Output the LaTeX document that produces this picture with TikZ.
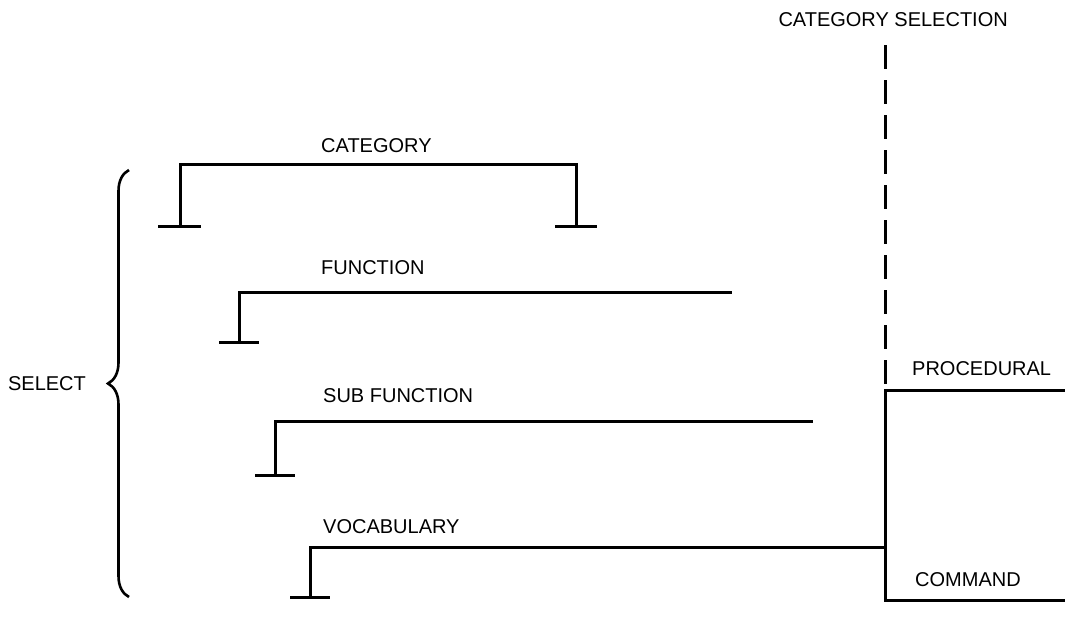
\documentclass[tikz,border=0pt]{standalone}
\usepackage{fontspec}
\setmainfont{Liberation Sans}
\usetikzlibrary{positioning,calc,decorations.pathreplacing}

\begin{document}
\begin{tikzpicture}[x=1pt, y=-1pt,
  bar/.style={line width=3pt, line cap=butt, line join=miter},
  split/.style={bar, dash pattern=on 24pt off 11pt},
  lbl/.style={font=\fontsize{20}{24}\selectfont, inner sep=0pt},
  curly/.style={line width=2.6pt, decorate,
    decoration={brace, amplitude=21pt}}
]
\useasboundingbox (0,0) rectangle (1065,633);

% Levels
\node[lbl, anchor=west] (cat) at (321,146) {CATEGORY};
\node[lbl, anchor=west] (fun) at (321,268) {FUNCTION};
\node[lbl, anchor=west] (sub) at (323,396) {SUB FUNCTION};
\node[lbl, anchor=west] (voc) at (323,527) {VOCABULARY};

% Category bracket
\coordinate (catL) at (180,164);
\coordinate (catR) at (576,164);
\coordinate (catLf) at (180,226);
\coordinate (catRf) at (576,226);
\draw[bar] (catLf) -- (catL) -- (catR) -- (catRf);
\draw[bar] ($(catLf)+(-22,0)$) -- ($(catLf)+(21,0)$);
\draw[bar] ($(catRf)+(-21,0)$) -- ($(catRf)+(21,0)$);

% Right side: category selection
\node[lbl, anchor=east] (catsel) at (1008,20) {CATEGORY SELECTION};
\coordinate (dashtop) at (885,45);
\coordinate (proc) at (885,390);
\coordinate (cmd) at (885,600);
\coordinate (vocR) at (885,547);
\draw[split] (dashtop) -- (proc);
\draw[bar] (1065,390) -- (proc) -- (cmd) -- (1065,600);
\node[lbl, anchor=west] (proclbl) at (912,369) {PROCEDURAL};
\node[lbl, anchor=west] (cmdlbl) at (915,580) {COMMAND};

% Function, sub function, vocabulary bars
\foreach \nm/\x/\y/\xe/\yf in {fun/239/292/732/342, sub/275/421/813/475, voc/310/547/885/597} {
  \coordinate (\nm-top) at (\x,\y);
  \coordinate (\nm-end) at (\xe,\y);
  \coordinate (\nm-foot) at (\x,\yf);
  \draw[bar] (\nm-foot) -- (\nm-top) -- (\nm-end);
  \draw[bar] ($(\nm-foot)+(-20,0)$) -- ($(\nm-foot)+(20,0)$);
}

% Select brace
\node[lbl] (sel) at (47,384) {SELECT};
\coordinate (brtop) at (129,170);
\coordinate (brbot) at (129,597);
\draw[curly] (brbot) -- (brtop);

\end{tikzpicture}
\end{document}
